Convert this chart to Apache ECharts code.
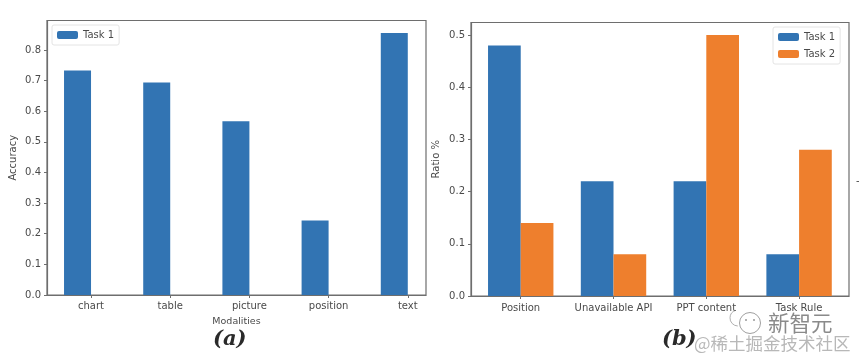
<!DOCTYPE html>
<html><head><meta charset="utf-8">
<script src="https://cdn.jsdelivr.net/npm/echarts@6/dist/echarts.min.js"></script>
<style>html,body{margin:0;padding:0;background:#fff}#c{width:859px;height:361px;filter:blur(0.45px)}</style>
</head><body><div id="c"></div>
<script>
const modalities = ['chart','table','picture','position','text'];
const task1Accuracy = [0.733,0.694,0.567,0.243,0.855];
const reasons = ['Position','Unavailable API','PPT content','Task Rule'];
const task1Ratio = [0.48,0.22,0.22,0.08];
const task2Ratio = [0.14,0.08,0.50,0.28];
const BLUE='#3274b3', ORANGE='#ee7f2d', TXT='#4a4a4a', FRAME='#6e6e6e';
const pts = a => a.map((v,i)=>[i,v]);
const idx = a => a.map((_,i)=>i);

function xAxis(gridIndex,cats,min,max,margin,extra){
  return Object.assign({type:'value',gridIndex,min,max,splitLine:{show:false},
    axisLine:{show:true,onZero:false,lineStyle:{color:FRAME,width:1.2}},
    axisTick:{show:true,length:3,customValues:idx(cats),lineStyle:{color:FRAME}},
    axisLabel:{customValues:idx(cats),formatter:v=>cats[Math.round(v)],color:TXT,fontSize:10,fontFamily:'DejaVu Sans',margin,hideOverlap:false}},extra||{});
}
function yAxis(gridIndex,max,name,gap){
  return {type:'value',gridIndex,min:0,max,interval:0.1,splitLine:{show:false},
    name,nameLocation:'middle',nameGap:gap,nameTextStyle:{color:TXT,fontSize:10,fontFamily:'DejaVu Sans'},
    axisLine:{show:true,onZero:false,lineStyle:{color:FRAME,width:1.2}},
    axisTick:{show:true,length:3,lineStyle:{color:FRAME}},
    axisLabel:{showMaxLabel:false,formatter:v=>v.toFixed(1),color:TXT,fontSize:10,fontFamily:'DejaVu Sans',margin:6}};
}
const legendBase={orient:'vertical',itemWidth:21,itemHeight:8,itemGap:7,padding:[5,5,5,5],
  backgroundColor:'#fff',borderColor:'#e4e4e4',borderWidth:1,borderRadius:2,
  textStyle:{color:TXT,fontSize:10,fontFamily:'DejaVu Sans'}};
const chart=echarts.init(document.getElementById('c'),null,{renderer:'canvas'});
chart.setOption({
  animation:false,backgroundColor:'#fff',
  grid:[
    {left:47,top:20.5,width:379,height:274.5,show:true,borderColor:FRAME,borderWidth:1.2,backgroundColor:'#fff'},
    {left:471,top:22.5,width:378,height:273.5,show:true,borderColor:FRAME,borderWidth:1.2,backgroundColor:'#fff'}
  ],
  xAxis:[
    xAxis(0,modalities,-0.556,4.23,6,{name:'Modalities',nameLocation:'middle',nameGap:22,nameTextStyle:{color:TXT,fontSize:9.5,fontFamily:'DejaVu Sans'}}),
    xAxis(1,reasons,-0.536,3.538,7)
  ],
  yAxis:[yAxis(0,0.896,'Accuracy',29),yAxis(1,0.524,'Ratio %',30)],
  legend:[
    Object.assign({},legendBase,{left:52,top:25,data:['Task 1']}),
    Object.assign({},legendBase,{left:773,top:27,data:[{name:'Task 1',itemStyle:{color:BLUE}},{name:'Task 2'}]})
  ],
  series:[
    {name:'Task 1',type:'bar',xAxisIndex:0,yAxisIndex:0,barWidth:27,barGap:0,data:pts(task1Accuracy),itemStyle:{color:BLUE}},
    {name:'spacer',type:'bar',xAxisIndex:0,yAxisIndex:0,barWidth:27,barGap:0,data:[],itemStyle:{color:BLUE}},
    {name:'Task 1',type:'bar',xAxisIndex:1,yAxisIndex:1,barWidth:32.7,barGap:0,data:pts(task1Ratio),itemStyle:{color:BLUE}},
    {name:'Task 2',type:'bar',xAxisIndex:1,yAxisIndex:1,barWidth:32.7,barGap:0,data:pts(task2Ratio),itemStyle:{color:ORANGE}}
  ],
  graphic:[
    {type:'text',x:213,y:329,style:{text:'(a)',font:'italic bold 21px "DejaVu Serif"',fill:'#2a2a2a'}},
    {type:'text',x:662,y:329,style:{text:'(b)',font:'italic bold 21px "DejaVu Serif"',fill:'#2a2a2a'}},
    {type:'rect',shape:{x:728,y:313,width:36,height:22},style:{fill:'#fff'}},
    {type:'circle',shape:{cx:750,cy:323,r:10.5},style:{fill:'#fff',stroke:'#a0a0a0',lineWidth:1}},
    {type:'arc',shape:{cx:738,cy:318,r:8,startAngle:1.6,endAngle:4.4},style:{fill:'none',stroke:'#b0b0b0',lineWidth:1}},
    {type:'circle',shape:{cx:746,cy:320,r:1},style:{fill:'#999'}},
    {type:'circle',shape:{cx:754,cy:320,r:1},style:{fill:'#999'}},
    {type:'text',x:768,y:312,style:{text:'新智元',font:'21.5px "Noto Sans CJK SC"',fill:'#8a8a8a'}},
    {type:'text',x:694,y:335,style:{text:'@稀土掘金技术社区',font:'17.5px "Noto Sans CJK SC"',fill:'#b8b8b8'}},
    {type:'text',x:856,y:176,style:{text:'-',font:'10px "DejaVu Sans"',fill:'#444'}}
  ]
});
</script></body></html>
